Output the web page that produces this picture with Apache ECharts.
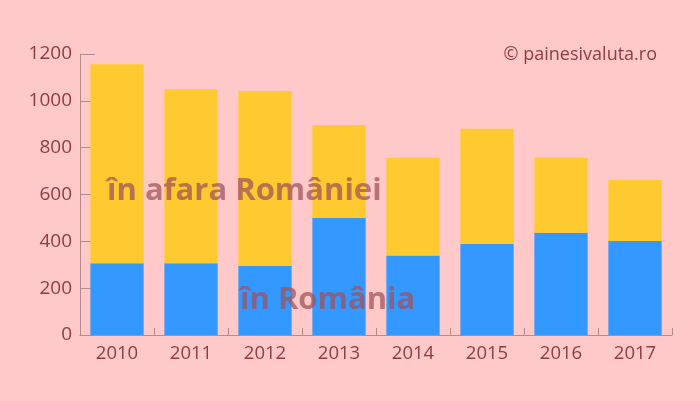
<!DOCTYPE html>
<html>
<head>
<meta charset="utf-8">
<script src="https://cdn.jsdelivr.net/npm/echarts@6/dist/echarts.min.js"></script>
<style>
html,body{margin:0;padding:0;background:#FFC9C9;}
#c{width:700px;height:401px;}
</style>
</head>
<body>
<div id="c"></div>
<script>
const years = ['2010','2011','2012','2013','2014','2015','2016','2017'];
const inRomania = [306, 306, 295, 501, 339, 389, 437, 401];
const inAfara = [850, 743, 747, 396, 418, 492, 320, 261];
const yTicks = [0, 200, 400, 600, 800, 1000, 1200];

const textColor = '#8E3B45';
const axisColor = '#B38C90';
const font = 'Open Sans';

const chart = echarts.init(document.getElementById('c'), null, {renderer: 'canvas'});
chart.setOption({
  backgroundColor: '#FFC9C9',
  animation: false,
  grid: {left: 80, right: 28, top: 54, bottom: 66, containLabel: false},
  xAxis: {
    type: 'category',
    data: years,
    axisLine: {lineStyle: {color: axisColor, width: 1}},
    axisTick: {show: true, inside: true, length: 7, lineStyle: {color: axisColor, width: 1}},
    axisLabel: {color: textColor, fontSize: 18.5, fontFamily: font, margin: 9}
  },
  yAxis: {
    type: 'value',
    min: yTicks[0],
    max: yTicks[yTicks.length - 1],
    interval: 200,
    axisLine: {show: true, lineStyle: {color: axisColor, width: 1}},
    axisTick: {show: true, inside: true, length: 15, lineStyle: {color: axisColor, width: 1}},
    splitLine: {show: false},
    axisLabel: {color: textColor, fontSize: 19, fontFamily: font, margin: 8,
      formatter: v => String(v)}
  },
  series: [
    {name: 'în România', type: 'bar', stack: 't', data: inRomania, barCategoryGap: '28%',
     itemStyle: {color: '#3398FF'}},
    {name: 'în afara României', type: 'bar', stack: 't', data: inAfara,
     itemStyle: {color: '#FFCA2F'}}
  ],
  graphic: [
    {type: 'text', left: 107, top: 176, z: 100,
     style: {text: 'în afara României', fill: 'rgba(160,80,90,0.72)', font: 'bold 31px "Open Sans"'}},
    {type: 'text', left: 240, top: 285, z: 100,
     style: {text: 'în România', fill: 'rgba(160,80,90,0.72)', font: 'bold 31px "Open Sans"'}},
    {type: 'text', right: 43, top: 46, z: 100,
     style: {text: '© painesivaluta.ro', fill: textColor, font: '18px "Open Sans"'}}
  ]
});
</script>
</body>
</html>
